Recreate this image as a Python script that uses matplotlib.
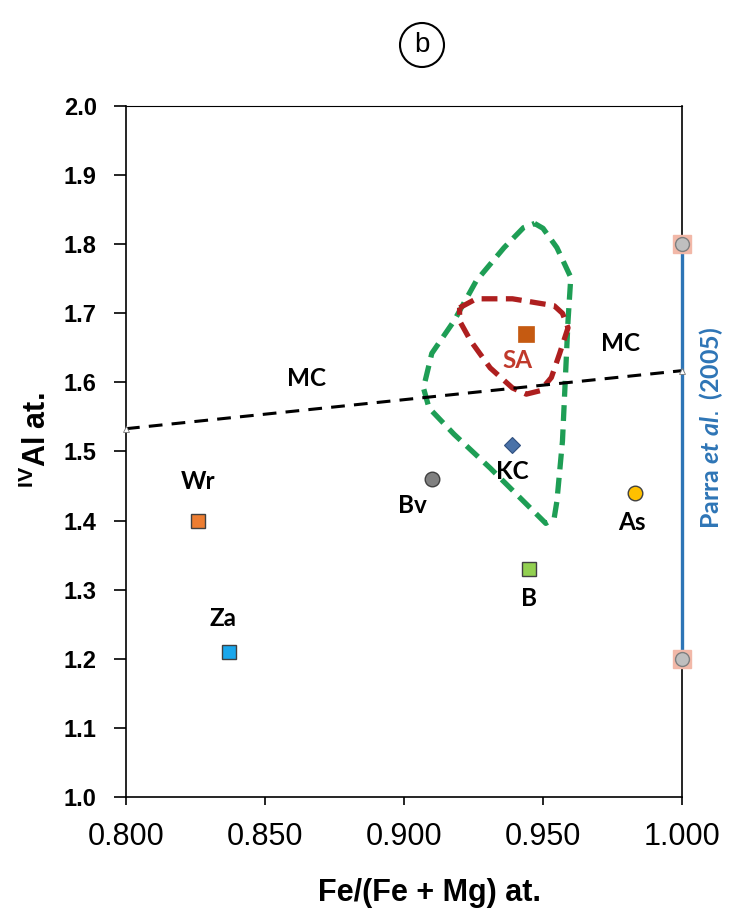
import matplotlib
matplotlib.use("Agg")
import matplotlib.pyplot as plt
from matplotlib.patches import Circle

plt.rcParams["mathtext.fontset"] = "custom"
plt.rcParams["mathtext.rm"] = "Liberation Sans"
plt.rcParams["mathtext.bf"] = "Liberation Sans:bold"
plt.rcParams["mathtext.it"] = "Lato:italic:bold"

# ---------------- data ----------------
sample_names = ["Wr", "Za", "Bv", "KC", "SA", "B", "As"]
sample_x = [0.826, 0.837, 0.910, 0.939, 0.944, 0.945, 0.983]
sample_y = [1.40, 1.21, 1.46, 1.51, 1.67, 1.33, 1.44]

parra_x = [1.0, 1.0]
parra_y = [1.80, 1.20]

mc_x = [0.800, 1.000]
mc_y = [1.533, 1.617]

green_x = [0.947, 0.950, 0.955, 0.960, 0.959, 0.958, 0.957, 0.955, 0.954, 0.951,
           0.943, 0.931, 0.918, 0.909, 0.907, 0.910, 0.918, 0.926, 0.936, 0.943, 0.947]
green_y = [1.830, 1.823, 1.795, 1.752, 1.689, 1.602, 1.515, 1.428, 1.403, 1.396,
           1.428, 1.476, 1.525, 1.563, 1.592, 1.642, 1.689, 1.747, 1.795, 1.824, 1.830]

red_x = [0.920, 0.926, 0.939, 0.954, 0.957, 0.959, 0.956, 0.953, 0.949, 0.944,
         0.939, 0.931, 0.924, 0.920, 0.920]
red_y = [1.708, 1.721, 1.721, 1.711, 1.700, 1.679, 1.642, 1.607, 1.588, 1.583,
         1.592, 1.621, 1.660, 1.689, 1.708]

x_ticks = [0.800, 0.850, 0.900, 0.950, 1.000]
x_tick_labels = ["0.800", "0.850", "0.900", "0.950", "1.000"]
y_ticks = [1.0, 1.1, 1.2, 1.3, 1.4, 1.5, 1.6, 1.7, 1.8, 1.9, 2.0]

# ---------------- figure ----------------
W, H = 729, 922
fig = plt.figure(figsize=(W / 100, H / 100), dpi=100)
ax = fig.add_axes([126 / W, 1 - 797 / H, (682 - 126) / W, (797 - 106) / H])
ax.set_xlim(0.8, 1.0)
ax.set_ylim(1.0, 2.0)

for s in ax.spines.values():
    s.set_color("black")
    s.set_linewidth(1.2)
ax.spines["top"].set_linewidth(0.8)

ax.set_xticks(x_ticks)
ax.set_xticklabels(x_tick_labels, family="Liberation Sans", fontsize=22)
ax.set_yticks(y_ticks)
ax.set_yticklabels([f"{v:.1f}" for v in y_ticks], family="Liberation Sans",
                   fontsize=17, fontweight="bold")
ax.tick_params(axis="y", direction="out", length=9, width=1.2, pad=12)
ax.tick_params(axis="x", direction="out", length=6, width=1.2, pad=12)

label_font = dict(family="Lato", fontweight="bold", fontsize=17.5)

# contours
ax.plot(green_x, green_y, color="#1E9E55", lw=3.8, ls=(0, (3.0, 1.6)),
        dash_capstyle="butt", zorder=3)
ax.plot(red_x, red_y, color="#AE1F1F", lw=3.8, ls=(0, (3.0, 1.6)),
        dash_capstyle="butt", zorder=3)

# MC line
ax.plot(mc_x, mc_y, color="black", lw=2.2, ls=(0, (4.5, 3)), zorder=4, clip_on=False)
ax.plot(mc_x, mc_y, ls="none", marker="^", ms=5, mfc="white", mec="#777777",
        mew=0.6, zorder=5, clip_on=False)

# Parra et al. line
ax.plot(parra_x, parra_y, color="#2E75B6", lw=2.4, zorder=4, clip_on=False)
ax.plot(parra_x, parra_y, ls="none", marker="s", ms=13, mfc="#F2B8A8",
        mec="#F2B8A8", zorder=5, clip_on=False)
ax.plot(parra_x, parra_y, ls="none", marker="o", ms=10, mfc="#BFBFBF",
        mec="#7F7F7F", mew=1.0, zorder=6, clip_on=False)

# samples
styles = {
    "Wr": dict(marker="s", ms=10.5, mfc="#ED7D31", mec="#404040", mew=1.0),
    "Za": dict(marker="s", ms=10.5, mfc="#1AA7EC", mec="#404040", mew=1.0),
    "Bv": dict(marker="o", ms=10.5, mfc="#808080", mec="#404040", mew=1.0),
    "KC": dict(marker="D", ms=8.5, mfc="#4A72A8", mec="#2F4F7F", mew=0.8),
    "SA": dict(marker="s", ms=12, mfc="#C55A11", mec="#C55A11", mew=0.5),
    "B":  dict(marker="s", ms=10.5, mfc="#92D050", mec="#404040", mew=1.0),
    "As": dict(marker="o", ms=10.5, mfc="#FFC000", mec="#404040", mew=1.0),
}
offsets = {
    "Wr": (0.0, 0.057),
    "Za": (-0.002, 0.048),
    "Bv": (-0.007, -0.038),
    "KC": (0.0, -0.039),
    "SA": (-0.003, -0.039),
    "B":  (0.0, -0.043),
    "As": (-0.001, -0.043),
}
for name, x, y in zip(sample_names, sample_x, sample_y):
    ax.plot([x], [y], ls="none", zorder=7, **styles[name])
    dx, dy = offsets[name]
    color = "#C0392B" if name == "SA" else "black"
    ax.text(x + dx, y + dy, name, ha="center", va="center", color=color,
            zorder=8, **label_font)

ax.text(0.865, 1.606, "MC", ha="center", va="center", zorder=8, **label_font)
ax.text(0.978, 1.657, "MC", ha="center", va="center", zorder=8, **label_font)

# Parra label
fig.text(711 / W, 1 - 428 / H, r"Parra $\mathit{et\ al.}$ (2005)", rotation=90,
         ha="center", va="center", color="#2E75B6", family="Lato",
         fontweight="bold", fontsize=18)

# axis labels
fig.text(429 / W, 1 - 893 / H, "Fe/(Fe + Mg) at.", ha="center", va="center",
         family="Liberation Sans", fontweight="bold", fontsize=22)
fig.text(36 / W, 1 - 440 / H, r"$\mathbf{{}^{IV}Al\ at.}$", rotation=90,
         ha="center", va="center", fontsize=22)

# panel label
circ = Circle((4.22, (H - 45) / 100), 0.22, transform=fig.dpi_scale_trans,
              fill=False, lw=1.5, edgecolor="black")
fig.patches.append(circ)
fig.text(422 / W, 1 - 45 / H, "b", ha="center", va="center",
         family="Liberation Sans", fontsize=20)

fig.savefig("out.png", dpi=100)
